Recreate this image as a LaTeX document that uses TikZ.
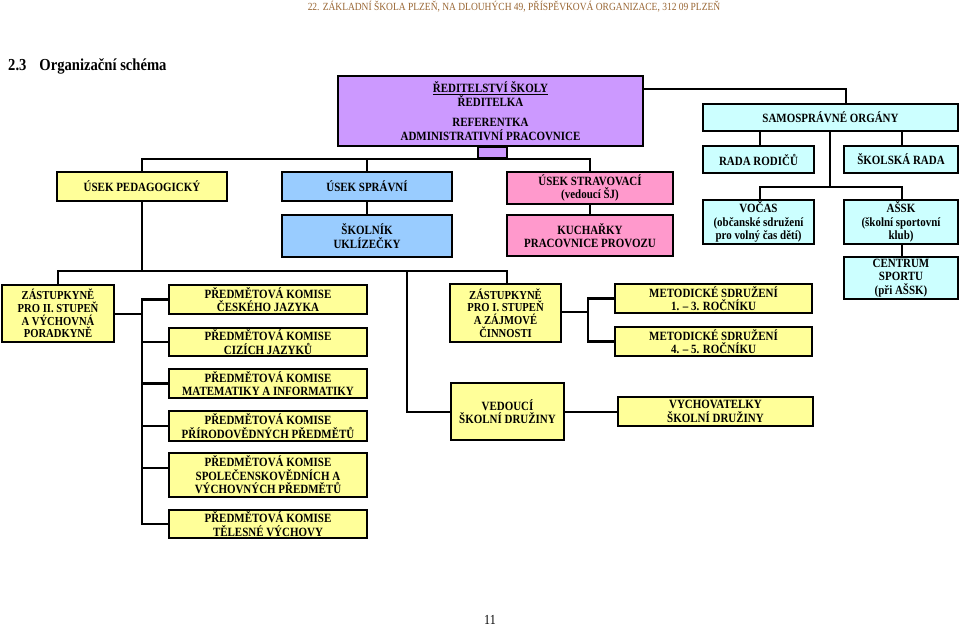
\documentclass[tikz,border=0pt]{standalone}
\usepackage{fontspec}
\setmainfont{Liberation Serif}[FakeStretch=0.87]
\definecolor{cpurple}{HTML}{CC99FF}
\definecolor{cyellow}{HTML}{FFFF99}
\definecolor{cblue}{HTML}{99CCFF}
\definecolor{cpink}{HTML}{FF99CC}
\definecolor{ccyan}{HTML}{CCFFFF}
\definecolor{chead}{HTML}{996633}
\tikzset{
  bx/.style={draw=black, line width=2.2pt, inner sep=0pt, align=center,
    font=\bfseries\fontsize{12.6}{13.5}\selectfont},
  tight/.style={font=\bfseries\fontsize{12.2}{12.6}\selectfont},
  ln/.style={draw=black, line width=2.2pt, line cap=rect},
}
\newcommand{\bxat}[7]{% name, x1,y1,x2,y2, fill, text
  \node[bx, fill=#6, minimum width={#4-#2}, minimum height={#5-#3}] (#1) at ({(#2+#4)/2},{(#3+#5)/2}) {#7};}
\begin{document}
\begin{tikzpicture}[x=1pt,y=-1pt]
\useasboundingbox (0,0) rectangle (960,627);
\fill[white] (0,0) rectangle (960,627);

\node[text=chead, font=\fontsize{10.9}{12}\selectfont] (hdr) at (514,7) {22. ZÁKLADNÍ ŠKOLA PLZEŇ, NA DLOUHÝCH 49, PŘÍSPĚVKOVÁ ORGANIZACE, 312 09 PLZEŇ};
\node[anchor=west, font=\bfseries\fontsize{16.8}{19}\selectfont, inner sep=0pt] (ttl) at (8,66) {2.3\hspace{13pt}Organizační schéma};
\node[font=\fontsize{13.8}{15}\selectfont] (pg) at (490,620) {11};

% connector coordinates
\coordinate (topR) at (846,89);
\coordinate (hA) at (142,159);
\coordinate (hB) at (590,159);
\coordinate (sA) at (830,187);
\coordinate (sL) at (760,187);
\coordinate (sR) at (902,187);
\coordinate (pA) at (142,271);
\coordinate (pL) at (58,271);
\coordinate (pR) at (507,271);
\coordinate (pM) at (407,271);
\coordinate (pMb) at (407,412);
\coordinate (kTop) at (142,299.5);
\coordinate (kBot) at (142,524);
\coordinate (kSp) at (142,468);
\coordinate (mTop) at (588,298.5);
\coordinate (mBot) at (588,341.5);

\bxat{dir}{338}{76}{643}{146}{cpurple}{\underline{ŘEDITELSTVÍ ŠKOLY}\\ŘEDITELKA\\[7pt]REFERENTKA\\ADMINISTRATIVNÍ PRACOVNICE}
\bxat{samo}{703}{104}{958}{131}{ccyan}{SAMOSPRÁVNÉ ORGÁNY}
\bxat{rada}{703}{146}{814}{173}{ccyan}{RADA RODIČŮ}
\bxat{skrada}{844}{146}{958}{173}{ccyan}{ŠKOLSKÁ RADA}
\bxat{vocas}{703}{200}{814}{244}{ccyan}{VOČAS\\(občanské sdružení\\pro volný čas dětí)}
\bxat{assk}{844}{200}{958}{244}{ccyan}{AŠSK\\(školní sportovní\\klub)}
\bxat{centrum}{844}{257}{958}{299}{ccyan}{CENTRUM\\SPORTU\\(při AŠSK)}

\bxat{ped}{57}{172}{227}{201}{cyellow}{ÚSEK PEDAGOGICKÝ}
\bxat{sprav}{282}{172}{452}{201}{cblue}{ÚSEK SPRÁVNÍ}
\bxat{skolnik}{282}{215}{452}{257}{cblue}{ŠKOLNÍK\\UKLÍZEČKY}
\bxat{strav}{507}{172}{673}{204}{cpink}{ÚSEK STRAVOVACÍ\\(vedoucí ŠJ)}
\bxat{kuch}{507}{215}{673}{256}{cpink}{KUCHAŘKY\\PRACOVNICE PROVOZU}

\node[bx, tight, fill=cyellow, minimum width=112, minimum height=57] (zast2) at (58,313.5) {ZÁSTUPKYNĚ\\PRO II. STUPEŇ\\A VÝCHOVNÁ\\PORADKYNĚ};
\bxat{pkcj}{169}{285}{367}{314}{cyellow}{PŘEDMĚTOVÁ KOMISE\\ČESKÉHO JAZYKA}
\bxat{pkcizi}{169}{328}{367}{356}{cyellow}{PŘEDMĚTOVÁ KOMISE\\CIZÍCH JAZYKŮ}
\bxat{pkmat}{169}{369}{367}{398}{cyellow}{PŘEDMĚTOVÁ KOMISE\\MATEMATIKY A INFORMATIKY}
\bxat{pkpr}{169}{411}{367}{441}{cyellow}{PŘEDMĚTOVÁ KOMISE\\PŘÍRODOVĚDNÝCH PŘEDMĚTŮ}
\bxat{pksp}{169}{453}{367}{497}{cyellow}{PŘEDMĚTOVÁ KOMISE\\SPOLEČENSKOVĚDNÍCH A\\VÝCHOVNÝCH PŘEDMĚTŮ}
\bxat{pktv}{169}{510}{367}{538}{cyellow}{PŘEDMĚTOVÁ KOMISE\\TĚLESNÉ VÝCHOVY}

\node[bx, tight, fill=cyellow, minimum width=111, minimum height=58] (zast1) at (505.5,313) {ZÁSTUPKYNĚ\\PRO I. STUPEŇ\\A ZÁJMOVÉ\\ČINNOSTI};
\bxat{met1}{615}{284}{812}{313}{cyellow}{METODICKÉ SDRUŽENÍ\\1. – 3. ROČNÍKU}
\bxat{met2}{615}{327}{812}{356}{cyellow}{METODICKÉ SDRUŽENÍ\\4. – 5. ROČNÍKU}
\bxat{ved}{451}{383}{564}{440}{cyellow}{VEDOUCÍ\\ŠKOLNÍ DRUŽINY}
\bxat{vych}{618}{397}{813}{426}{cyellow}{VYCHOVATELKY\\ŠKOLNÍ DRUŽINY}

% stub under director box
\node[draw=black, line width=2.2pt, fill=cpurple, minimum width=29, minimum height=12, inner sep=0pt] (stub) at (492.5,152.5) {};

% lines
\draw[ln] (dir.east |- topR) -- (topR) -- (samo.north -| topR);
\draw[ln] (hA) -- (hB) -- (strav.north);
\draw[ln] (hA) -- (ped.north);
\draw[ln] (sprav.north |- hA) -- (sprav.north);
\draw[ln] (sprav.south) -- (skolnik.north);
\draw[ln] (strav.south) -- (kuch.north);
\draw[ln] (samo.south -| sL) -- (rada.north -| sL);
\draw[ln] (samo.south -| sR) -- (skrada.north -| sR);
\draw[ln] (samo.south -| sA) -- (sA);
\draw[ln] (sL) -- (sR);
\draw[ln] (sL) -- (vocas.north -| sL);
\draw[ln] (sR) -- (assk.north -| sR);
\draw[ln] (assk.south -| sR) -- (centrum.north -| sR);

\draw[ln] (ped.south) -- (pA);
\draw[ln] (pL) -- (pR);
\draw[ln] (pL) -- (zast2.north);
\draw[ln] (pR) -- (zast1.north -| pR);
\draw[ln] (pM) -- (pMb) -- (ved.west |- pMb);
\draw[ln] (ved.east |- pMb) -- (vych.west |- pMb);

\draw[ln] (zast2.east |- 0,314) -- (142,314);
\draw[ln] (kTop) -- (kBot);
\draw[ln] (kTop) -- (pkcj.west |- kTop);
\draw[ln] (pkcizi.west -| kTop) -- (pkcizi.west);
\draw[ln] (pkmat.west -| kTop) -- (pkmat.west);
\draw[ln] (pkpr.west -| kTop) -- (pkpr.west);
\draw[ln] (kSp) -- (pksp.west |- kSp);
\draw[ln] (kBot) -- (pktv.west |- kBot);

\draw[ln] (zast1.east |- 0,312) -- (588,312);
\draw[ln] (mTop) -- (mBot);
\draw[ln] (mTop) -- (met1.west |- mTop);
\draw[ln] (mBot) -- (met2.west |- mBot);
\end{tikzpicture}
\end{document}
